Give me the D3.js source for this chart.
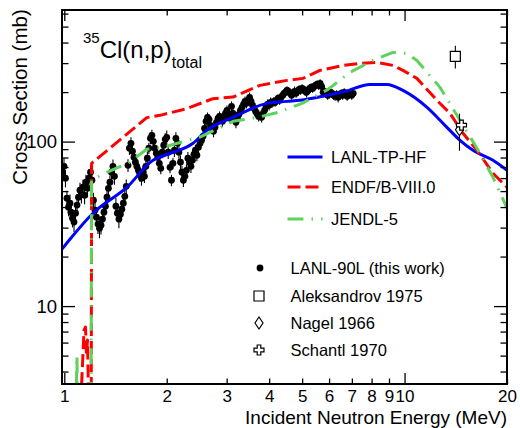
<!DOCTYPE html>
<html><head><meta charset="utf-8">
<script src="https://cdn.jsdelivr.net/npm/d3@7"></script>
<style>
body{margin:0;background:#fff}
svg{display:block}
text{font-family:"Liberation Sans",Arial,Helvetica,sans-serif;fill:#000}
</style>
</head><body>
<svg id="c" width="520" height="428"></svg>
<script>
// ---------- DATA ----------
const lanlE = [
 0.988,0.998,1.008,1.018,1.029,1.039,1.046,1.057,1.068,1.079,
 1.090,1.101,1.112,1.123,1.135,1.147,1.158,1.170,1.182,1.194,
 1.206,1.218,1.231,1.243,1.256,1.269,1.282,1.295,1.308,1.321,
 1.335,1.348,1.362,1.376,1.390,1.404,1.418,1.432,1.447,1.462,
 1.476,1.491,1.506,1.521,1.539,1.554,1.570,1.586,1.602,1.618,
 1.634,1.651,1.669,1.686,1.703,1.720,1.737,1.754,1.772,1.791,
 1.809,1.827,1.845,1.864,1.883,1.902,1.921,1.940,1.960,1.980,
 2.000,2.020,2.045,2.065,2.086,2.107,2.128,2.150,2.172,2.195,
 2.217,2.239,2.262,2.285,2.308,2.332,2.356,2.380,2.404,2.428,
 2.453,2.478,2.506,2.531,2.557,2.583,2.610,2.636,2.663,2.690,
 2.717,2.745,2.773,2.801,2.830,2.859,2.888,2.917,2.947,2.977,
 3.007,3.038,3.070,3.101,3.131,3.163,3.195,3.228,3.261,3.295,
 3.329,3.363,3.397,3.432,3.467,3.503,3.539,3.575,3.611,3.648,
 3.686,3.724,3.762,3.800,3.839,3.878,3.918,3.958,3.998,4.039,
 4.080,4.122,4.164,4.206,4.246,4.292,4.336,4.380,4.425,4.470,
 4.512,4.561,4.609,4.656,4.703,4.751,4.800,4.849,4.898,4.948,
 4.998,5.049,5.101,5.153,5.206,5.259,5.313,5.367,5.422,5.477,
 5.533,5.589,5.647,5.704,5.762,5.821,5.881,5.941,6.002,6.063,
 6.125,6.188,6.251,6.315,6.380,6.445,6.511,6.578,6.646,6.714,
 6.783,6.853,6.920,6.993,7.065
];
const lanlXS = [
 65.1,70.7,59.9,45.3,39.9,42.2,37.2,34.2,32.4,36.7,
 41.1,45.9,50.6,47.8,52.8,47.2,56.6,52.0,59.9,65.1,
 58.2,44.0,38.3,34.7,31.5,29.7,31.0,33.8,37.2,40.5,
 45.9,52.0,56.6,65.1,70.7,61.5,40.5,36.7,33.8,36.2,
 38.8,42.2,46.5,53.5,71.7,91.1,97.6,87.4,80.3,74.9,
 70.7,66.9,63.3,59.9,65.1,61.5,70.7,79.2,91.1,104.7,
 109.2,100.4,91.1,84.9,80.3,73.8,68.8,86.2,95.0,103.2,
 106.2,86.2,69.8,58.2,73.8,88.6,104.7,97.6,86.2,74.9,
 65.1,58.2,61.5,66.9,79.2,74.9,70.7,77.0,83.7,88.6,
 82.6,92.4,97.6,101.8,107.7,120.4,132.8,140.5,136.6,125.6,
 120.4,115.5,122.1,131.0,138.5,142.5,138.5,132.8,140.5,148.5,
 154.9,146.5,138.5,163.8,148.5,136.6,131.0,138.5,146.5,154.9,
 161.5,168.5,175.7,170.9,178.2,185.8,175.7,166.2,159.3,152.8,
 146.5,142.5,144.5,140.5,146.5,154.9,163.8,168.5,166.2,173.3,
 170.9,175.7,173.3,178.2,183.3,178.2,185.8,191.0,196.5,199.2,
 204.8,202.0,196.5,191.0,196.5,202.0,196.5,202.0,207.7,204.8,
 210.6,207.7,202.0,199.2,204.8,210.6,213.6,210.6,216.6,219.7,
 222.8,219.7,226.0,216.6,199.2,202.0,196.5,191.0,193.7,199.2,
 196.5,191.0,188.4,193.7,185.8,191.0,196.5,191.0,199.2,193.7,
 188.4,193.7,196.5,191.0,196.5
];
// relative uncertainty, percent
const lanlErrPct = [
 13,12,12,11,12,13,12,12,13,12,
 11,12,11,12,11,12,11,12,11,10,
 11,11,12,12,13,13,12,12,11,11,
 11,10,10,10,10,11,12,12,12,11,
 11,10,10,10,9,9,9,9,9,10,
 10,10,10,10,9,9,9,9,8,8,
 8,9,9,9,10,9,8,8,8,9,
 10,9,8,8,8,9,9,9,10,10,
 9,9,8,9,9,9,9,8,8,8,
 8,8,8,8,8,8,7,7,7,7,
 7,8,7,7,7,7,7,7,7,7,
 7,7,7,7,7,7,8,7,7,7,
 7,7,7,7,7,7,7,7,7,7,
 7,7,7,7,7,7,7,7,7,7,
 6,6,6,7,6,6,6,6,6,7,
 6,6,6,6,6,7,6,6,6,6,
 6,6,6,7,6,6,6,6,6,6,
 6,6,6,6,7,6,6,6,6,6,
 6,6,6,6,7,6,6,6,6,6,
 6,6,6,6,6
];

const hfE  = [0.9845,1.039,1.214,1.529,1.823,1.976,2.389,2.627,3.131,3.942,4.512,4.927,5.916,6.683,7.913,8.878,9.892,11.64,13.32,14.55,15.89,18.19,20.0];
const hfXS = [22.2,25.5,36.7,52.8,77.0,82.6,97.7,117.1,140.4,170.8,175.6,178.2,191.0,202.0,222.7,222.7,204.8,161.6,122.1,101.8,88.6,77.0,67.0];

const endfE  = [1.112,1.143,1.154,1.162,1.170,1.182,1.200,1.203,1.747,1.910,2.289,2.735,3.131,3.759,4.512,5.029,5.642,6.592,7.393,8.30,9.246,9.892,10.87,12.45,13.60,14.85,16.32,18.19,20.0];
const endfXS = [2,7.15,7.46,5.04,6.22,2,2,73.8,139.9,144.4,158.6,182.4,186.6,219.7,235.6,242.3,271.0,290.5,298.8,303.0,290.5,271.0,242.3,178.2,148.5,112.3,88.6,64.2,52.8];

const jendlE  = [1.085,1.087,1.090,1.092,1.199,1.202,1.248,1.332,1.539,1.747,1.950,2.505,3.131,3.709,4.246,4.995,5.956,6.913,8.076,9.246,10.16,10.87,12.71,14.55,16.32,18.19,20.0];
const jendlXS = [2,4.97,4.97,2,2,58.2,60.7,65.1,73.8,89.8,92.3,106.6,132.8,140.4,150.6,170.8,207.7,263.5,311.6,348.5,343.7,311.6,213.6,134.7,91.1,60.7,39.4];

const aleksE = [14.1],  aleksXS = [330], aleksErr = [52];
const nagelE = [14.5],  nagelXS = [118], nagelErr = [30];
const schantlE = [14.7], schantlXS = [126], schantlErr = [8];

const xTickValues = [1,2,3,4,5,6,7,8,9,10,20];
const xTickLabels = ["1","2","3","4","5","6","7","8","9","10","20"];
const xMajorTicks = [1,10];
const xMinorTicks = [2,3,4,5,6,7,8,9,20];
const yTickValues = [10,100];
const yTickLabels = ["10","100"];
const yMajorTicks = [10,100];
const yMinorTicks = [4,5,6,7,8,9,20,30,40,50,60,70,80,90,200,300,400,500,600];

const curveNames = ["LANL-TP-HF","ENDF/B-VIII.0","JENDL-5"];
const expNames = ["LANL-90L (this work)","Aleksandrov 1975","Nagel 1966","Schantl 1970"];

// ---------- DRAW ----------
const L=62,R=507,T=10,B=384;
const svg = d3.select("#c");
const x = d3.scaleLog().domain([0.9846,20]).range([L,R]);
const y = d3.scaleLog().domain([3.36,631]).range([B,T]);

svg.append("defs").append("clipPath").attr("id","clip")
  .append("rect").attr("x",L).attr("y",T).attr("width",R-L).attr("height",B-T);
const plot = svg.append("g").attr("clip-path","url(#clip)");

// LANL data
const lanl = lanlE.map((e,i)=>({e, s:lanlXS[i], d:lanlXS[i]*lanlErrPct[i]/100}));
plot.append("g").selectAll("line").data(lanl).join("line")
  .attr("x1",d=>x(d.e)).attr("x2",d=>x(d.e))
  .attr("y1",d=>y(d.s-d.d)).attr("y2",d=>y(d.s+d.d))
  .attr("stroke","#000").attr("stroke-width",1.1);
plot.append("g").selectAll("circle").data(lanl).join("circle")
  .attr("cx",d=>x(d.e)).attr("cy",d=>y(d.s)).attr("r",3.4).attr("fill","#000");

// curves
const smooth = d3.line().x(d=>x(d[0])).y(d=>y(d[1])).curve(d3.curveMonotoneX);
const straight = d3.line().x(d=>x(d[0])).y(d=>y(d[1])).curve(d3.curveLinear);
const curves = [
  {e:hfE, s:hfXS, color:"#0000ff", dash:null, gen:smooth},
  {e:endfE, s:endfXS, color:"#ff0000", dash:"13,5", gen:straight},
  {e:jendlE, s:jendlXS, color:"#5dd35d", dash:"16,8,1.5,8", gen:straight}
];
curves.forEach(c=>{
  plot.append("path").datum(c.e.map((e,i)=>[e,c.s[i]]))
    .attr("d",c.gen).attr("fill","none").attr("stroke",c.color)
    .attr("stroke-width",3).attr("stroke-linejoin","round")
    .attr("stroke-dasharray",c.dash);
});

// other experiments
const symSquare = "M-5,-5H5V5H-5Z";
const symDiamond = "M0,-6L4,0L0,6L-4,0Z";
const a=1.8, l=5;
const symCross = `M${-a},${-l}H${a}V${-a}H${l}V${a}H${a}V${l}H${-a}V${a}H${-l}V${-a}H${-a}Z`;
const exps = [
  {e:aleksE, s:aleksXS, d:aleksErr, sym:symSquare},
  {e:nagelE, s:nagelXS, d:nagelErr, sym:symDiamond},
  {e:schantlE, s:schantlXS, d:schantlErr, sym:symCross}
];
exps.forEach(ex=>{
  ex.e.forEach((e,i)=>{
    plot.append("line").attr("x1",x(e)).attr("x2",x(e))
      .attr("y1",y(ex.s[i]-ex.d[i])).attr("y2",y(ex.s[i]+ex.d[i]))
      .attr("stroke","#000").attr("stroke-width",1.1);
    plot.append("path").attr("d",ex.sym)
      .attr("transform",`translate(${x(e)},${y(ex.s[i])})`)
      .attr("fill","#fff").attr("stroke","#000").attr("stroke-width",1.2);
  });
});

// axes
function ax(gen, tx, ty){
  const g = svg.append("g").attr("transform",`translate(${tx},${ty})`).call(gen);
  g.select(".domain").remove();
  g.selectAll("line").attr("stroke","#000").attr("stroke-width",1.3);
  g.attr("font-family",null).attr("font-size",null);
  return g;
}
ax(d3.axisBottom(x).tickValues(xMajorTicks).tickSize(-11).tickFormat(""),0,B);
ax(d3.axisBottom(x).tickValues(xMinorTicks).tickSize(-5.5).tickFormat(""),0,B);
ax(d3.axisTop(x).tickValues(xMajorTicks).tickSize(-11).tickFormat(""),0,T);
ax(d3.axisTop(x).tickValues(xMinorTicks).tickSize(-5.5).tickFormat(""),0,T);
ax(d3.axisLeft(y).tickValues(yMajorTicks).tickSize(-13).tickFormat(""),L,0);
ax(d3.axisLeft(y).tickValues(yMinorTicks).tickSize(-6.5).tickFormat(""),L,0);
ax(d3.axisRight(y).tickValues(yMajorTicks).tickSize(-13).tickFormat(""),R,0);
ax(d3.axisRight(y).tickValues(yMinorTicks).tickSize(-6.5).tickFormat(""),R,0);

const xl = ax(d3.axisBottom(x).tickValues(xTickValues).tickSize(0).tickPadding(6)
  .tickFormat((d,i)=>xTickLabels[i]),0,B);
xl.selectAll("text").style("font-size","17px");
const yl = ax(d3.axisLeft(y).tickValues(yTickValues).tickSize(0).tickPadding(5)
  .tickFormat((d,i)=>yTickLabels[i]),L,0);
yl.selectAll("text").style("font-size","18.5px");

// frame
svg.append("rect").attr("x",L).attr("y",T).attr("width",R-L).attr("height",B-T)
  .attr("fill","none").attr("stroke","#000").attr("stroke-width",2);

// axis titles
svg.append("text").attr("x",R).attr("y",423.6).attr("text-anchor","end")
  .style("font-size","19px").text("Incident Neutron Energy (MeV)");
svg.append("text").attr("transform","translate(27,97) rotate(-90)").attr("text-anchor","middle")
  .style("font-size","20.5px").text("Cross Section (mb)");

// title
const tt = svg.append("text").attr("x",83).attr("y",58);
tt.append("tspan").attr("dy",-15).style("font-size","15px").text("35");
tt.append("tspan").attr("dy",15).style("font-size","24px").text("Cl(n,p)");
tt.append("tspan").attr("dy",10).style("font-size","16px").text("total");

// legend: curves
const legY = [157,187,219];
curves.forEach((c,i)=>{
  svg.append("line").attr("x1",287.5).attr("x2",322.5).attr("y1",legY[i]).attr("y2",legY[i])
    .attr("stroke",c.color).attr("stroke-width",3).attr("stroke-dasharray",c.dash);
  svg.append("text").attr("x",331).attr("y",legY[i]).attr("dy","0.35em")
    .style("font-size","16.5px").text(curveNames[i]);
});
// legend: experiments
const expY = [268,296,323,350];
svg.append("circle").attr("cx",260).attr("cy",expY[0]).attr("r",3.4).attr("fill","#000");
[symSquare,symDiamond,symCross].forEach((s,i)=>{
  svg.append("path").attr("d",s).attr("transform",`translate(259,${expY[i+1]})`)
    .attr("fill","#fff").attr("stroke","#000").attr("stroke-width",1.2);
});
expNames.forEach((n,i)=>{
  svg.append("text").attr("x",290.5).attr("y",expY[i]).attr("dy","0.35em")
    .style("font-size","16.5px").text(n);
});
</script>
</body></html>
